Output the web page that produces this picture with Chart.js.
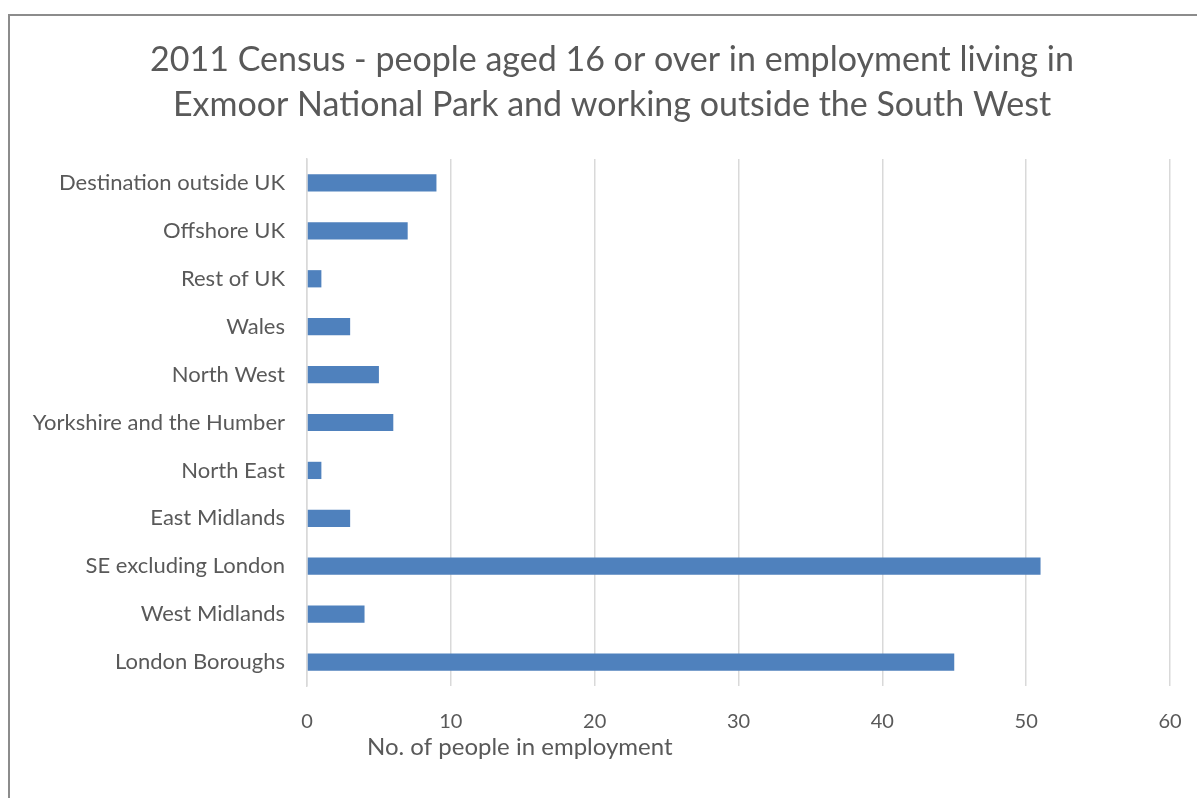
<!DOCTYPE html>
<html>
<head>
<meta charset="utf-8">
<script src="https://cdn.jsdelivr.net/npm/chart.js@4/dist/chart.umd.min.js"></script>
<style>
  html, body { margin: 0; padding: 0; background: #fff; overflow: hidden; }
  #wrap { position: relative; width: 1197px; height: 798px; }
  #frame { position: absolute; left: 8px; top: 14px; width: 1300px; height: 900px;
           border: 2px solid #8c8c8c; box-sizing: border-box; }
  #c { position: absolute; left: 0; top: 0; }
</style>
</head>
<body>
<div id="wrap">
  <div id="frame"></div>
  <canvas id="c" width="1197" height="798"></canvas>
</div>
<script>
const categories = [
  'Destination outside UK', 'Offshore UK', 'Rest of UK', 'Wales', 'North West',
  'Yorkshire and the Humber', 'North East', 'East Midlands', 'SE excluding London',
  'West Midlands', 'London Boroughs'
];
const people = [9, 7, 1, 3, 5, 6, 1, 3, 51, 4, 45];
const titleLines = [
  '2011 Census - people aged 16 or over in employment living in',
  'Exmoor National Park and working outside the South West'
];
const xTitle = 'No. of people in employment';

const FONT = 'Lato, "Open Sans", sans-serif';
const TEXT = '#595959';

// title and axis title are drawn by hand: both sit off the chart's centre in the source
const texts = {
  id: 'texts',
  afterDraw(chart) {
    const c = chart.ctx;
    c.save();
    c.fillStyle = TEXT;
    c.textBaseline = 'middle';
    c.font = '34px ' + FONT;
    c.textAlign = 'center';
    titleLines.forEach((t, i) => c.fillText(t, 612, 60 + i * 45));
    c.font = '24px ' + FONT;
    c.textAlign = 'left';
    c.fillText(xTitle, 367, 747);
    c.restore();
  }
};

new Chart(document.getElementById('c'), {
  type: 'bar',
  data: {
    labels: categories,
    datasets: [{
      data: people,
      backgroundColor: '#4f81bd',
      categoryPercentage: 1,
      barPercentage: 0.36
    }]
  },
  options: {
    indexAxis: 'y',
    responsive: false,
    animation: false,
    layout: { padding: { top: 159, right: 27, left: 0, bottom: 0 } },
    plugins: {
      legend: { display: false },
      tooltip: { enabled: false },
      title: { display: false }
    },
    scales: {
      x: {
        min: 0, max: 60,
        ticks: { stepSize: 10, color: TEXT, font: { family: FONT, size: 20 }, padding: 24 },
        grid: { color: '#d9d9d9', lineWidth: 1.5, drawTicks: false },
        border: { display: false },
        afterFit(s) { s.height = 112; s.paddingLeft = 0; s.paddingRight = 0; }
      },
      y: {
        ticks: { color: TEXT, font: { family: FONT, size: 22 }, padding: 14 },
        grid: { display: false },
        border: { color: '#d9d9d9', width: 1.5 },
        afterFit(s) { s.width = 307; s.paddingTop = 0; s.paddingBottom = 0; }
      }
    }
  },
  plugins: [texts]
});
</script>
</body>
</html>
